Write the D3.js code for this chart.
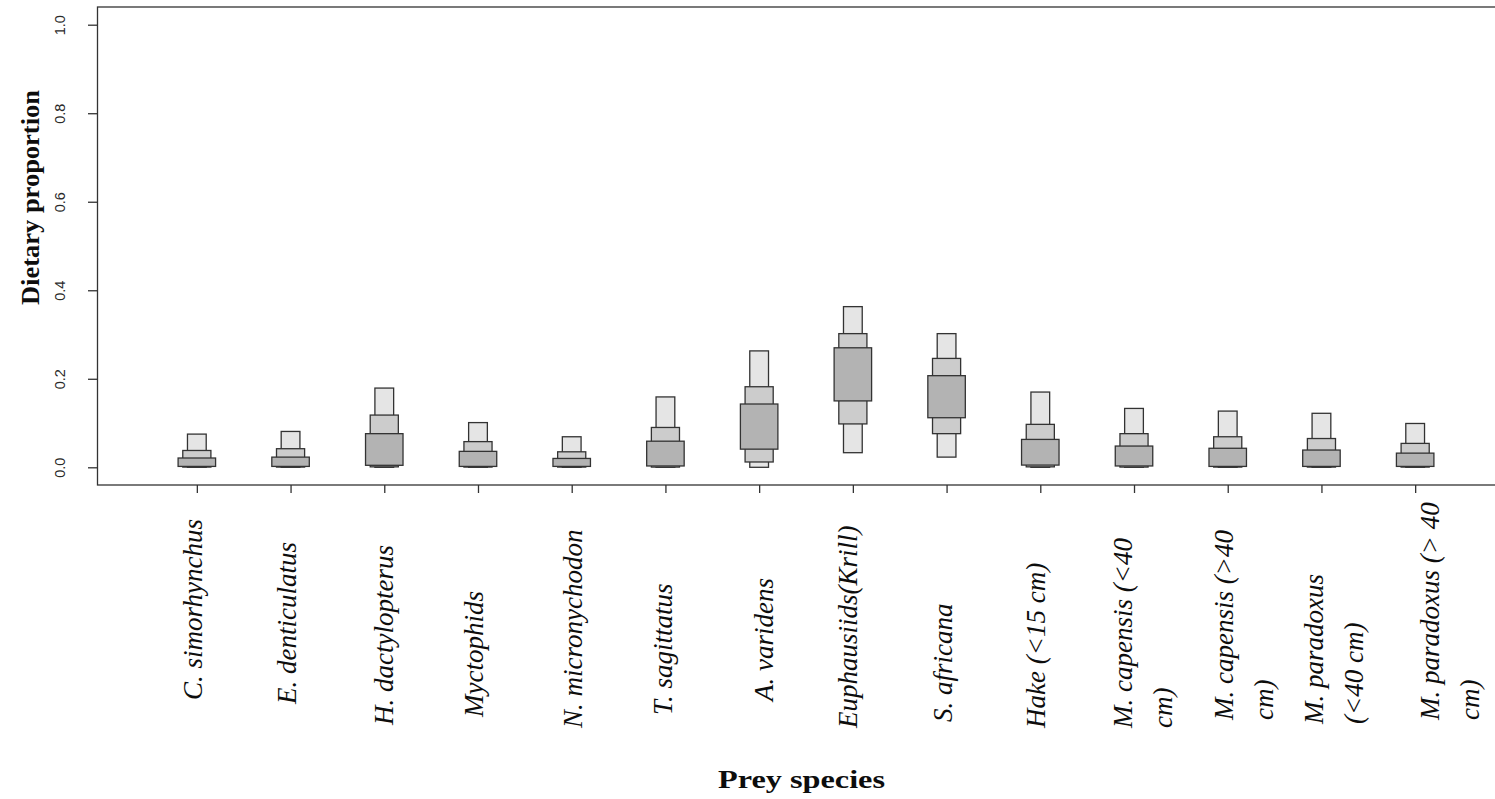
<!DOCTYPE html>
<html>
<head>
<meta charset="utf-8">
<script src="https://cdn.jsdelivr.net/npm/d3@7"></script>
<style>
  html, body { margin: 0; padding: 0; background: #ffffff; }
  svg { display: block; }
</style>
</head>
<body>
<svg id="chart" width="1495" height="799"></svg>
<script>
// Prey sources (line breaks mark wrapped labels)
const categories = [
  "C. simorhynchus", "E. denticulatus", "H. dactylopterus", "Myctophids",
  "N. micronychodon", "T. sagittatus", "A. varidens", "Euphausiids(Krill)",
  "S. africana", "Hake (<15 cm)", "M. capensis (<40\ncm)", "M. capensis (>40\ncm)",
  "M. paradoxus\n(<40 cm)", "M. paradoxus (> 40\ncm)"
];

// Credible intervals of dietary proportion (95%, 75%, 50%)
const lo95 = [0.000, 0.000, 0.000, 0.000, 0.000, 0.000, 0.000, 0.033, 0.023, 0.000, 0.000, 0.000, 0.000, 0.000];
const hi95 = [0.075, 0.081, 0.179, 0.101, 0.069, 0.159, 0.263, 0.363, 0.302, 0.170, 0.133, 0.127, 0.122, 0.099];
const lo75 = [0.0005, 0.0005, 0.001, 0.0005, 0.0005, 0.0005, 0.012, 0.098, 0.076, 0.001, 0.0005, 0.0005, 0.0005, 0.0005];
const hi75 = [0.038, 0.042, 0.118, 0.058, 0.035, 0.090, 0.182, 0.302, 0.246, 0.097, 0.076, 0.069, 0.065, 0.054];
const lo50 = [0.002, 0.002, 0.0045, 0.002, 0.002, 0.003, 0.041, 0.150, 0.112, 0.005, 0.003, 0.002, 0.002, 0.002];
const hi50 = [0.021, 0.023, 0.076, 0.036, 0.020, 0.059, 0.143, 0.270, 0.207, 0.063, 0.048, 0.043, 0.039, 0.032];

const yTicks = [0, 0.2, 0.4, 0.6, 0.8, 1.0];

// Label placement: baseline offset from tick, and where each label starts
const labelDx = [4.7, 5.7, 8.7, 5.5, 10, 6.4, 14, 4.5, 5, 5, -1.6, 5, 1.7, 23.4];
const labelStartY = [700, 704, 725, 717, 728, 715, 701, 728, 722, 728, 728, 720, 724, 720];
const lineGap = 40;

const svg = d3.select("#chart");
const W = 1495, H = 799;
const plot = { left: 97.5, right: 1514.5, top: 7, bottom: 485 };

// R-style axis ranges: 4% padding around the data limits
const xlim = [0.5, 14.5], ylim = [0, 1];
const xpad = (xlim[1] - xlim[0]) * 0.04, ypad = (ylim[1] - ylim[0]) * 0.04;
const x = d3.scaleLinear().domain([xlim[0] - xpad, xlim[1] + xpad]).range([plot.left, plot.right]);
const y = d3.scaleLinear().domain([ylim[0] - ypad, ylim[1] + ypad]).range([plot.bottom, plot.top]);

svg.append("rect").attr("width", W).attr("height", H).attr("fill", "#ffffff");

// Nested interval boxes: widest/darkest = 50%, narrowest/lightest = 95%
const levels = [
  { lo: lo95, hi: hi95, half: 0.10, fill: "#e5e5e5" },
  { lo: lo75, hi: hi75, half: 0.15, fill: "#cccccc" },
  { lo: lo50, hi: hi50, half: 0.20, fill: "#b3b3b3" }
];

const boxes = svg.append("g").attr("class", "boxes");
categories.forEach((c, i) => {
  const xi = i + 1;
  levels.forEach(l => {
    boxes.append("rect")
      .attr("x", x(xi - l.half))
      .attr("width", x(xi + l.half) - x(xi - l.half))
      .attr("y", y(l.hi[i]))
      .attr("height", Math.max(0.5, y(l.lo[i]) - y(l.hi[i])))
      .attr("fill", l.fill)
      .attr("stroke", "#333333")
      .attr("stroke-width", 1.3);
  });
});

// Plot frame
svg.append("rect")
  .attr("x", plot.left).attr("y", plot.top)
  .attr("width", plot.right - plot.left).attr("height", plot.bottom - plot.top)
  .attr("fill", "none").attr("stroke", "#333333").attr("stroke-width", 1.3);

// Y axis
const yAxis = d3.axisLeft(y).tickValues(yTicks).tickSize(9.5).tickFormat(d3.format(".1f"));
const gy = svg.append("g").attr("transform", `translate(${plot.left},0)`).call(yAxis);
gy.attr("font-size", null).attr("font-family", null);
gy.select(".domain").remove();
gy.selectAll(".tick line").attr("stroke", "#333333").attr("stroke-width", 1.3);
gy.selectAll(".tick text")
  .attr("x", 0).attr("dy", null)
  .attr("transform", `translate(-33,0) rotate(-90)`)
  .attr("text-anchor", "middle")
  .style("font-family", "'Liberation Sans', Arial, sans-serif")
  .style("font-size", "14.5px")
  .attr("fill", "#2a2a2a");

// X axis ticks
const xAxis = d3.axisBottom(x).tickValues(d3.range(1, categories.length + 1)).tickSize(8).tickFormat("");
const gx = svg.append("g").attr("transform", `translate(0,${plot.bottom})`).call(xAxis);
gx.select(".domain").remove();
gx.selectAll(".tick line").attr("stroke", "#333333").attr("stroke-width", 1.3);

// Rotated italic category labels
const labels = svg.append("g").attr("class", "labels")
  .attr("font-family", "'Liberation Serif', 'Times New Roman', serif")
  .attr("font-style", "italic")
  .attr("font-size", 27)
  .attr("fill", "#0d0d0d");
categories.forEach((c, i) => {
  c.split("\n").forEach((line, k) => {
    const bx = x(i + 1) + labelDx[i] + k * lineGap;
    const by = labelStartY[i];
    labels.append("text")
      .attr("transform", `translate(${bx},${by}) rotate(-90)`)
      .attr("text-anchor", "start")
      .text(line);
  });
});

// Axis titles
svg.append("text")
  .attr("transform", `translate(39,197.5) rotate(-90)`)
  .attr("text-anchor", "middle")
  .attr("font-family", "'Liberation Serif', 'Times New Roman', serif")
  .attr("font-weight", "bold")
  .attr("font-size", 25)
  .attr("textLength", 215)
  .attr("lengthAdjust", "spacingAndGlyphs")
  .attr("fill", "#0d0d0d")
  .text("Dietary proportion");

svg.append("text")
  .attr("x", 801.5).attr("y", 788)
  .attr("text-anchor", "middle")
  .attr("font-family", "'Liberation Serif', 'Times New Roman', serif")
  .attr("font-weight", "bold")
  .attr("font-size", 26)
  .attr("textLength", 167)
  .attr("lengthAdjust", "spacingAndGlyphs")
  .attr("fill", "#0d0d0d")
  .text("Prey species");
</script>
</body>
</html>
